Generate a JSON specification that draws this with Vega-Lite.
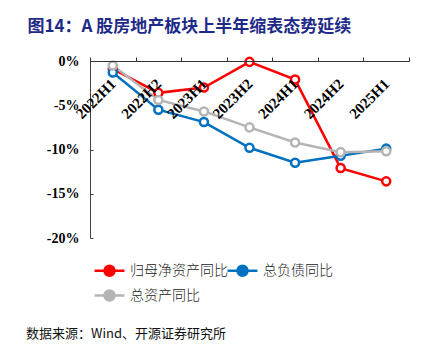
{
  "$schema": "https://vega.github.io/schema/vega-lite/v6.json",
  "width": 319,
  "height": 177,
  "autosize": {"type": "none"},
  "padding": {"left": 90, "top": 61, "right": 35, "bottom": 115},
  "background": "white",
  "title": {
    "text": "数据来源：Wind、开源证券研究所",
    "orient": "bottom",
    "anchor": "start",
    "frame": "group",
    "offset": 22,
    "baseline": "top",
    "dx": -64,
    "font": "Noto Sans CJK SC",
    "fontSize": 13,
    "fontWeight": "normal",
    "color": "#111111"
  },
  "config": {
    "view": {"stroke": null},
    "axis": {"grid": false}
  },
  "data": {
    "values": [
      {"period": "2022H1", "series": "归母净资产同比", "value": -0.9},
      {"period": "2022H2", "series": "归母净资产同比", "value": -3.6},
      {"period": "2023H1", "series": "归母净资产同比", "value": -3.0},
      {"period": "2023H2", "series": "归母净资产同比", "value": -0.1},
      {"period": "2024H1", "series": "归母净资产同比", "value": -2.1},
      {"period": "2024H2", "series": "归母净资产同比", "value": -12.1},
      {"period": "2025H1", "series": "归母净资产同比", "value": -13.6},
      {"period": "2022H1", "series": "总负债同比", "value": -1.3},
      {"period": "2022H2", "series": "总负债同比", "value": -5.5},
      {"period": "2023H1", "series": "总负债同比", "value": -6.9},
      {"period": "2023H2", "series": "总负债同比", "value": -9.8},
      {"period": "2024H1", "series": "总负债同比", "value": -11.5},
      {"period": "2024H2", "series": "总负债同比", "value": -10.7},
      {"period": "2025H1", "series": "总负债同比", "value": -9.9},
      {"period": "2022H1", "series": "总资产同比", "value": -0.5},
      {"period": "2022H2", "series": "总资产同比", "value": -4.4},
      {"period": "2023H1", "series": "总资产同比", "value": -5.7},
      {"period": "2023H2", "series": "总资产同比", "value": -7.5},
      {"period": "2024H1", "series": "总资产同比", "value": -9.2},
      {"period": "2024H2", "series": "总资产同比", "value": -10.3},
      {"period": "2025H1", "series": "总资产同比", "value": -10.2}
    ]
  },
  "encoding": {
    "x": {
      "field": "period",
      "type": "ordinal",
      "scale": {"paddingInner": 0, "paddingOuter": 0},
      "axis": {
        "orient": "top",
        "zindex": 1,
        "title": "图14：A 股房地产板块上半年缩表态势延续",
        "titleX": -63,
        "titleY": -30,
        "titleAlign": "left",
        "titleAnchor": "start",
        "titleBaseline": "alphabetic",
        "titleFont": "Noto Sans CJK SC",
        "titleFontSize": 17,
        "titleFontWeight": "bold",
        "titleColor": "#1e2a88",
        "labelAngle": -45,
        "labelAlign": "right",
        "labelBaseline": "middle",
        "labelPadding": -24,
        "labelFont": "Liberation Serif",
        "labelFontSize": 15,
        "labelFontWeight": "bold",
        "labelColor": "#000000",
        "tickBand": "extent",
        "tickSize": 4,
        "tickColor": "#333333",
        "domainColor": "#333333"
      }
    },
    "y": {
      "field": "value",
      "type": "quantitative",
      "scale": {"domain": [-20, 0], "nice": false},
      "axis": {
        "title": null,
        "values": [0, -5, -10, -15, -20],
        "labelExpr": "datum.value + '%'",
        "labelFont": "Liberation Serif",
        "labelFontSize": 14,
        "labelFontWeight": "bold",
        "labelColor": "#000000",
        "labelPadding": 14,
        "tickSize": -3,
        "tickColor": "#444444",
        "domainColor": "#444444"
      }
    },
    "color": {
      "field": "series",
      "type": "nominal",
      "sort": ["归母净资产同比", "总资产同比", "总负债同比"],
      "scale": {
        "domain": ["归母净资产同比", "总资产同比", "总负债同比"],
        "range": ["#ff0000", "#b4b4b4", "#0070c0"]
      },
      "legend": {
        "title": null,
        "orient": "none",
        "legendX": 5,
        "legendY": 195,
        "columns": 2,
        "columnPadding": -8,
        "rowPadding": 0,
        "symbolType": "M-1.15,0L-0.385,0M0.385,0L1.15,0M-0.385,0A0.385,0.385,0,1,1,0.385,0A0.385,0.385,0,1,1,-0.385,0",
        "symbolSize": 676,
        "symbolStrokeWidth": 2.5,
        "symbolFillColor": "white",
        "labelFont": "Noto Sans CJK SC",
        "labelFontSize": 14,
        "labelFontWeight": 300,
        "labelColor": "#222222",
        "labelOffset": 6
      }
    }
  },
  "layer": [
    {"mark": {"type": "line", "strokeWidth": 2.5}},
    {"mark": {"type": "point", "shape": "circle", "filled": true, "fill": "white", "size": 65, "strokeWidth": 2.5, "opacity": 1}, "encoding": {"stroke": {"field": "series", "type": "nominal", "scale": {"domain": ["归母净资产同比", "总资产同比", "总负债同比"], "range": ["#ff0000", "#b4b4b4", "#0070c0"]}, "legend": null}}}
  ]
}
